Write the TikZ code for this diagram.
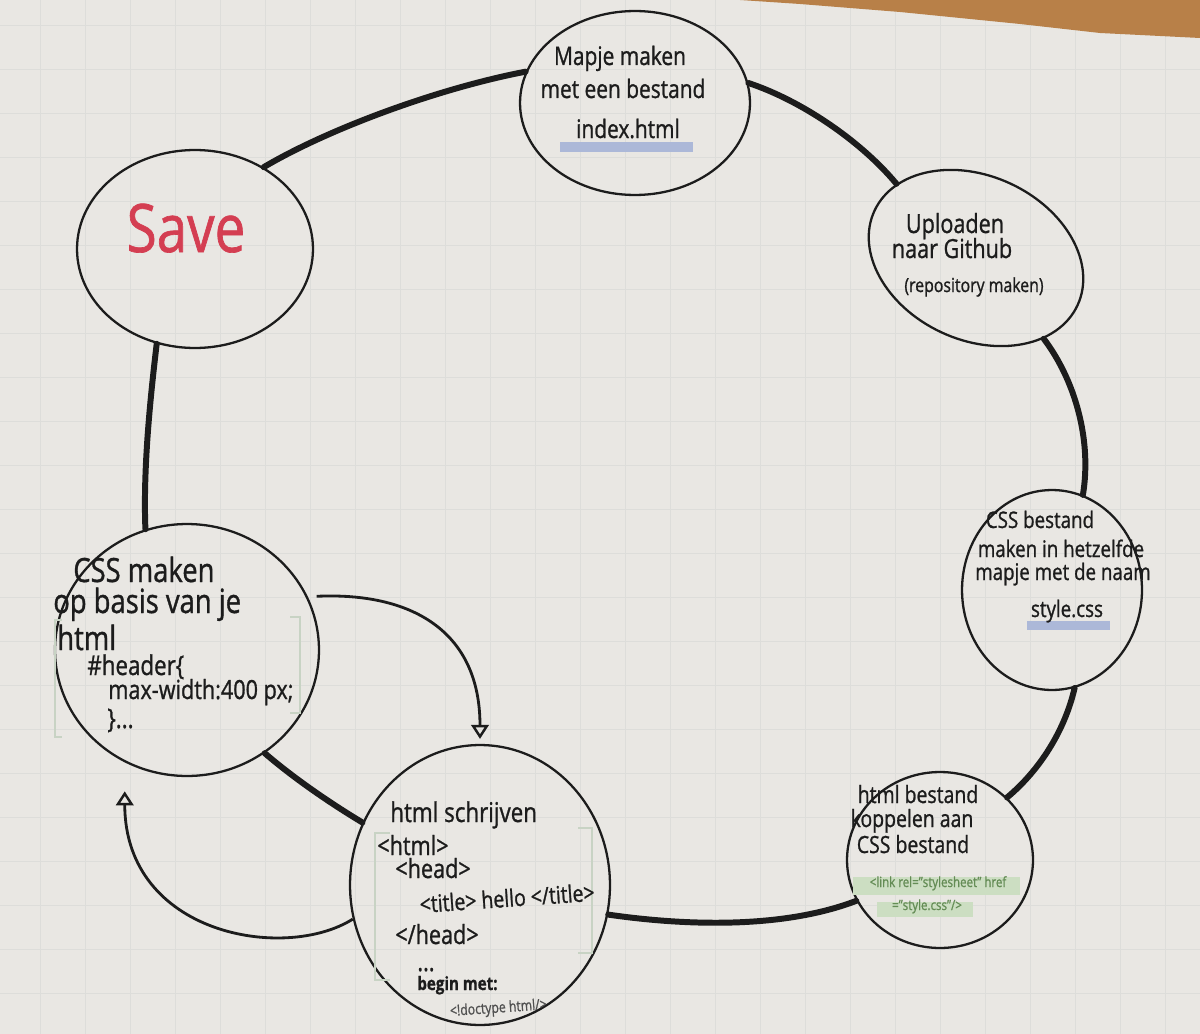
\documentclass[tikz,border=0pt]{standalone}
\usepackage{fontspec}
\setmainfont[FakeStretch=0.82,FakeBold=1.0]{Open Sans}
\usetikzlibrary{shapes.geometric,arrows.meta}
\definecolor{paper}{RGB}{233,231,227}
\definecolor{gridc}{RGB}{221,221,218}
\definecolor{wood}{RGB}{184,128,72}
\definecolor{ink}{RGB}{28,28,28}
\definecolor{savered}{RGB}{212,62,82}
\definecolor{hiblue}{RGB}{172,184,216}
\definecolor{codegreen}{RGB}{100,140,85}
\definecolor{higreen}{RGB}{204,222,194}
\definecolor{bracketc}{RGB}{200,211,196}
\definecolor{pencil}{RGB}{80,80,80}
\begin{document}
\begin{tikzpicture}[x=0.02cm,y=-0.02cm,
  bubble/.style={draw=ink,ellipse,line width=1.3pt,inner sep=0pt},
  link/.style={draw=ink,line width=3.4pt,line cap=round},
  flow/.style={draw=ink,line width=1.6pt,-{Triangle[open,length=8pt,width=10pt,line width=1.4pt]}},
  hw/.style={text=ink,anchor=base,inner sep=0pt},
  hwl/.style={hw,anchor=base west},
  sz/.style={font=\fontsize{#1}{#1}\selectfont},
  bracketline/.style={line width=1pt,draw=bracketc}]
% paper and grid
\useasboundingbox (0,0) rectangle (1200,1034);
\fill[paper] (0,0) rectangle (1200,1034);
\foreach \gx in {40,85,...,1200} \draw[gridc,line width=0.5pt] (\gx,0) -- (\gx,1034);
\foreach \gy in {25,69,...,1034} \draw[gridc,line width=0.5pt] (0,\gy) -- (1200,\gy);
\fill[wood] (740,0) -- (800,4) -- (900,12) -- (960,18) -- (1020,24) -- (1100,33) -- (1200,38) -- (1200,0) -- cycle;

% bubbles
\node[bubble,minimum width=4.72cm,minimum height=3.96cm] (save) at (195,249) {};
\node[bubble,minimum width=4.6cm,minimum height=3.68cm] (mapje) at (635,103) {};
\node[bubble,minimum width=4.48cm,minimum height=3.28cm,rotate=-25] (upload) at (976,258) {};
\node[bubble,minimum width=3.6cm,minimum height=4cm] (cssb) at (1052,590) {};
\node[bubble,minimum width=3.72cm,minimum height=3.52cm] (htmlb) at (940,860) {};
\node[bubble,minimum width=5.2cm,minimum height=5.6cm] (schrijven) at (480,885) {};
\node[bubble,minimum width=5.28cm,minimum height=5.04cm] (cssmaker) at (187,650) {};

% cycle links
\draw[link] (save.50) .. controls (330,128) and (440,88) .. (mapje.164);
\draw[link] (mapje.10) .. controls (800,100) and (860,140) .. (upload.162);
\draw[link] (upload.-25) .. controls (1075,380) and (1092,440) .. (cssb.72);
\draw[link] (cssb.-77) .. controls (1065,730) and (1040,770) .. (htmlb.43);
\draw[link] (htmlb.206) .. controls (780,930) and (680,925) .. (schrijven.-13);
\draw[link] (schrijven.152) .. controls (325,800) and (290,775) .. (cssmaker.-53);
\draw[link] (cssmaker.109) .. controls (143,470) and (150,400) .. (save.248);

% thin arrows
\draw[flow] ([xshift=0.18cm]cssmaker.24) .. controls (410,592) and (480,630) .. ([yshift=0.1cm]schrijven.90);
\draw[flow] (schrijven.195) .. controls (285,962) and (125,935) .. ([yshift=-0.58cm]cssmaker.241);

% faint brackets
\draw[bracketline] (62,620) -- (55,620) -- (55,737) -- (62,737);
\draw[bracketline] (290,617) -- (300,617) -- (300,713) -- (290,713);
\draw[bracketline] (390,833) -- (375,833) -- (375,980) -- (390,980);
\draw[bracketline] (578,828) -- (592,828) -- (592,953) -- (578,953);

% highlights
\fill[hiblue] (560,142) rectangle (693,152);
\fill[hiblue] (1027,621) rectangle (1110,630);
\fill[higreen] (853,877) rectangle (1020,895);
\fill[higreen] (877,902) rectangle (973,917);

% Save
\node[hw,sz=38,text=savered] (savetext) at (186,252) {Save};

% Mapje
\node[hw,sz=14.5] (m1) at (620,65) {Mapje maken};
\node[hw,sz=14.5] (m2) at (623,98) {met een bestand};
\node[hw,sz=14.5] (m3) at (628,138) {index.html};

% Uploaden
\node[hw,sz=15] (u1) at (955,233) {Uploaden};
\node[hw,sz=15] (u2) at (952,258) {naar Github};
\node[hw,sz=11] (u3) at (974,292) {(repository maken)};

% CSS bestand
\node[hw,sz=13] (b1) at (1040,528) {CSS bestand};
\node[hw,sz=13] (b2) at (1061,557) {maken in hetzelfde};
\node[hw,sz=13] (b3) at (1063,580) {mapje met de naam};
\node[hw,sz=13] (b4) at (1067,617) {style.css};

% html bestand
\node[hw,sz=13.5] (h1) at (918,803) {html bestand};
\node[hw,sz=13.5] (h2) at (912,827) {koppelen aan};
\node[hw,sz=13.5] (h3) at (913,853) {CSS bestand};
\node[hw,sz=8,text=codegreen] (h4) at (938,887) {<link rel="stylesheet" href};
\node[hw,sz=8,text=codegreen] (h5) at (927,910) {="style.css"/>};

% html schrijven
\node[hwl,sz=15.5] (s1) at (390,822) {html schrijven};
\node[hwl,sz=15] (s2) at (377,855) {<html>};
\node[hwl,sz=15] (s3) at (395,878) {<head>};
\node[hwl,sz=13.5,rotate=4] (s4) at (420,913) {<title> hello </title>};
\node[hwl,sz=15] (s5) at (395,944) {</head>};
\node[hwl,sz=15] (s6) at (417,971) {...};
\node[hwl,font=\fontsize{10.5}{10.5}\selectfont\bfseries] (s7) at (417,990) {begin met:};
\node[hwl,sz=8.5,text=pencil,rotate=4] (s8) at (450,1016) {<!doctype html/>};

% CSS maken
\node[hwl,sz=19] (c1) at (73,582) {CSS maken};
\node[hwl,sz=19] (c2) at (53,613) {op basis van je};
\node[hwl,sz=19] (c3) at (57,650) {html};
\node[hwl,sz=15.5] (c4) at (87,675) {\#header\{};
\node[hwl,sz=15] (c5) at (108,699) {max-width:400 px;};
\node[hwl,sz=15.5] (c6) at (107,728) {\}...};
\end{tikzpicture}
\end{document}
